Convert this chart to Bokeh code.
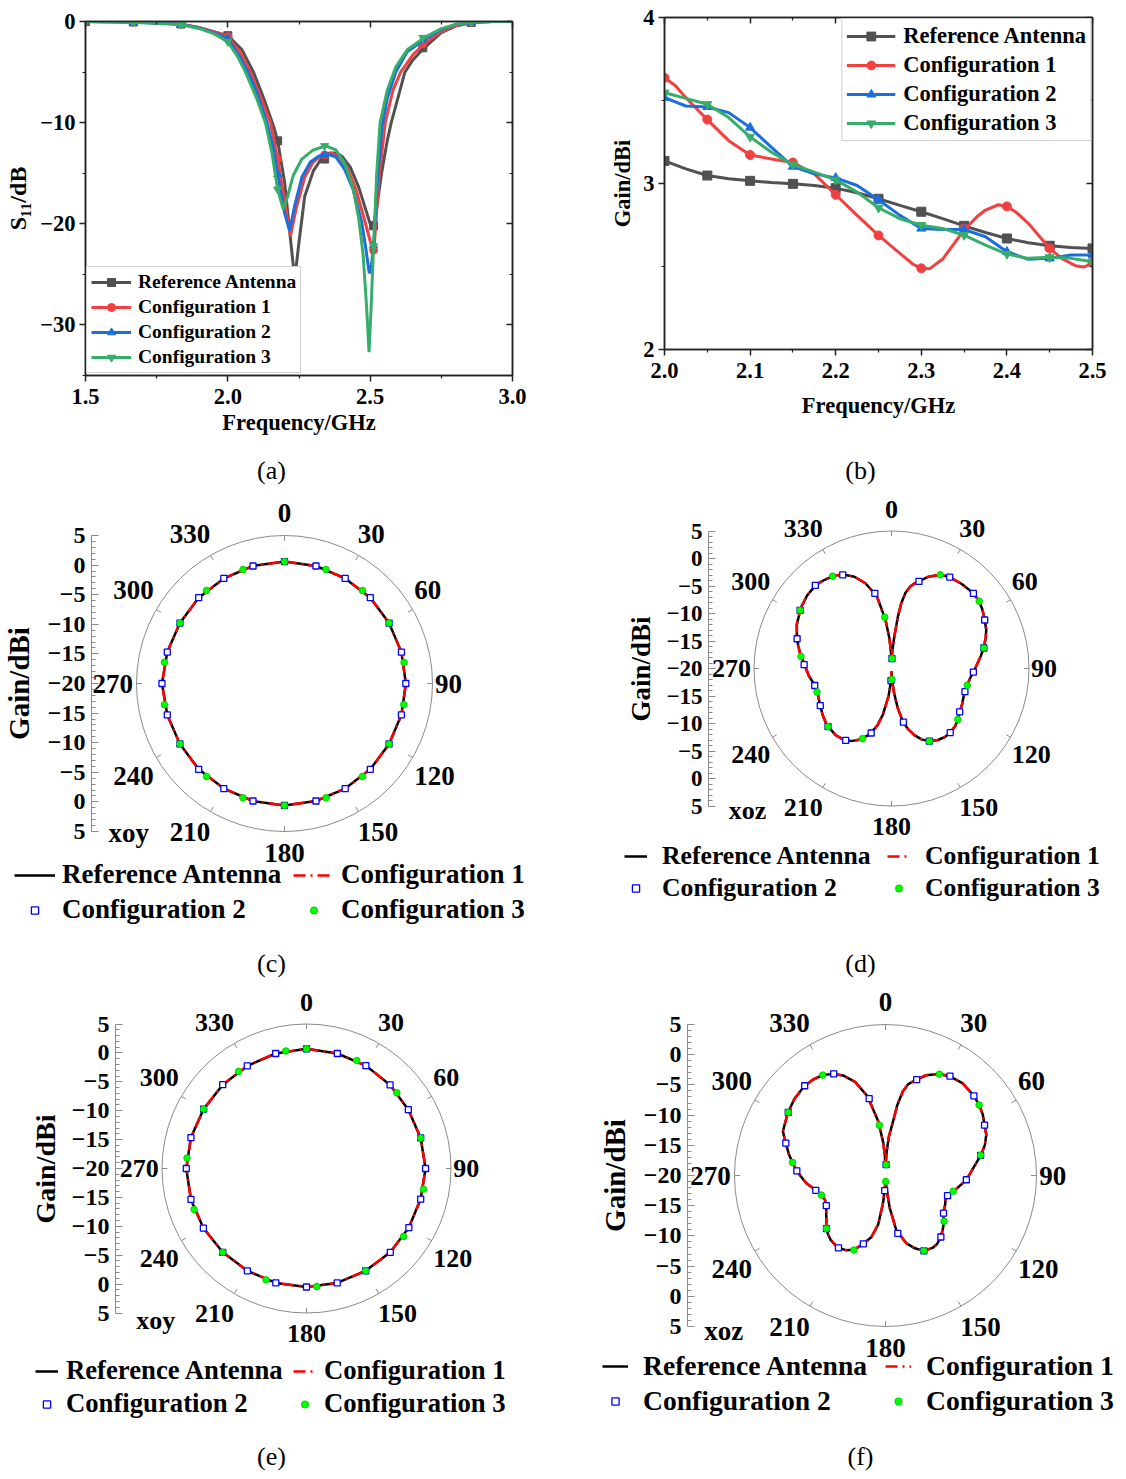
import numpy as np
from bokeh.plotting import figure
from bokeh.models import Range1d, LinearAxis, FixedTicker, Legend, LegendItem, Label, ColumnDataSource
from bokeh.layouts import row, column
from bokeh.core.properties import value, field
from bokeh.embed import file_html
from bokeh.resources import INLINE

FONT = "Liberation Serif"

# ---------------- shared series info ----------------
series_names = ["Reference Antenna", "Configuration 1", "Configuration 2", "Configuration 3"]
line_colors = ["#515151", "#F14040", "#1A6FDF", "#37AD6B"]
marker_types = ["square", "circle", "triangle", "inverted_triangle"]

# ---------------- (a) S11 vs frequency ----------------
s11_ref_f = [1.5, 1.6, 1.7, 1.8, 1.85, 1.9, 1.95, 2.0, 2.05, 2.09, 2.13, 2.16, 2.175, 2.2, 2.22, 2.235, 2.25, 2.27, 2.3,
             2.33, 2.36, 2.38, 2.4, 2.43, 2.46, 2.48, 2.5, 2.51, 2.52, 2.54, 2.56, 2.574, 2.6, 2.622, 2.65, 2.69, 2.75,
             2.8, 2.86, 2.93, 3.0]
s11_ref_db = [0.0, -0.02, -0.08, -0.2, -0.35, -0.6, -1.0, -1.4, -2.8, -5.0, -7.9, -10.3, -11.8, -16.0, -21.5, -25.5,
              -21.8, -17.3, -14.8, -13.5, -13.0, -13.0, -13.3, -14.4, -16.4, -18.2, -20.0, -20.3, -19.0, -15.0, -11.8,
              -10.0, -7.3, -5.0, -3.8, -2.6, -1.1, -0.45, -0.1, 0.0, 0.0]
s11_c1_f = [1.5, 1.6, 1.7, 1.8, 1.85, 1.9, 1.95, 2.0, 2.04, 2.08, 2.12, 2.15, 2.175, 2.2, 2.22, 2.24, 2.27, 2.3, 2.33,
            2.36, 2.39, 2.42, 2.45, 2.48, 2.5, 2.513, 2.53, 2.553, 2.58, 2.607, 2.65, 2.69, 2.75, 2.8, 2.86, 2.93, 3.0]
s11_c1_db = [0.0, -0.02, -0.08, -0.2, -0.35, -0.62, -1.0, -1.5, -2.9, -5.0, -7.8, -10.0, -13.6, -17.8, -21.2, -18.5,
             -15.4, -13.9, -13.2, -13.0, -13.3, -14.5, -16.6, -19.6, -21.7, -22.7, -15.8, -10.0, -6.8, -5.0, -3.3,
             -2.2, -1.0, -0.4, -0.08, 0.0, 0.0]
s11_c2_f = [1.5, 1.6, 1.7, 1.8, 1.85, 1.9, 1.95, 2.0, 2.04, 2.071, 2.1, 2.138, 2.16, 2.175, 2.2, 2.217, 2.235, 2.26,
            2.29, 2.32, 2.35, 2.38, 2.41, 2.44, 2.47, 2.485, 2.497, 2.505, 2.513, 2.525, 2.541, 2.56, 2.59, 2.63, 2.69,
            2.75, 2.8, 2.86, 2.93, 3.0]
s11_c2_db = [0.0, -0.03, -0.1, -0.22, -0.38, -0.65, -1.1, -1.7, -3.4, -5.0, -6.9, -10.0, -12.6, -15.1, -19.0, -20.7,
             -18.2, -15.4, -13.9, -13.3, -13.1, -13.4, -14.6, -16.6, -19.8, -22.5, -24.9, -24.0, -21.9, -16.0, -10.5,
             -7.6, -5.0, -3.0, -1.8, -0.8, -0.3, -0.05, 0.0, 0.0]
s11_c3_f = [1.5, 1.6, 1.7, 1.8, 1.85, 1.9, 1.95, 2.0, 2.035, 2.062, 2.1, 2.132, 2.155, 2.175, 2.195, 2.21, 2.23, 2.26,
            2.3, 2.344, 2.38, 2.41, 2.44, 2.46, 2.475, 2.487, 2.496, 2.503, 2.512, 2.523, 2.535, 2.56, 2.59, 2.63, 2.69,
            2.75, 2.8, 2.86, 2.93, 3.0]
s11_c3_db = [0.0, -0.04, -0.12, -0.25, -0.4, -0.7, -1.2, -2.0, -3.5, -5.0, -7.5, -10.0, -13.0, -16.6, -18.6, -17.3,
             -15.2, -13.6, -12.7, -12.3, -12.7, -14.0, -16.5, -19.5, -23.0, -28.0, -32.7, -28.5, -22.2, -15.0, -10.0,
             -6.8, -4.5, -2.8, -1.6, -0.7, -0.3, -0.05, 0.0, 0.0]
s11_mark_f = [1.5, 1.668, 1.835, 2.0, 2.175, 2.34, 2.512, 2.685, 2.855]
s11_ref_mark = [0.0, -0.05, -0.25, -1.4, -11.8, -13.6, -20.2, -2.6, -0.1]
s11_c1_mark = [0.0, -0.05, -0.25, -1.5, -13.6, -13.2, -22.6, -2.2, -0.08]
s11_c2_mark = [0.0, -0.07, -0.28, -1.7, -15.1, -13.2, -22.1, -1.8, -0.06]
s11_c3_mark = [0.0, -0.08, -0.3, -2.0, -16.6, -12.3, -22.2, -1.6, -0.05]
s11_x_ticks = [1.5, 2.0, 2.5, 3.0]
s11_x_labels = ["1.5", "2.0", "2.5", "3.0"]
s11_x_minor = [1.75, 2.25, 2.75]
s11_y_ticks = [0, -10, -20, -30]
s11_y_labels = ["0", "\u221210", "\u221220", "\u221230"]
s11_y_minor = [-5, -15, -25, -35]

# ---------------- (b) gain vs frequency ----------------
gain_f = [2.0, 2.025, 2.05, 2.075, 2.1, 2.125, 2.15, 2.175, 2.2, 2.225, 2.25, 2.275, 2.3, 2.325, 2.35, 2.375, 2.4,
          2.425, 2.45, 2.475, 2.5]
gain_ref = [3.136, 3.088, 3.048, 3.028, 3.016, 3.006, 2.998, 2.988, 2.972, 2.944, 2.908, 2.868, 2.830, 2.788, 2.745,
            2.705, 2.669, 2.643, 2.625, 2.615, 2.609]
gain_c1 = [3.637, 3.517, 3.385, 3.258, 3.172, 3.148, 3.126, 3.058, 2.932, 2.808, 2.687, 2.579, 2.489, 2.559, 2.729,
           2.858, 2.862, 2.768, 2.609, 2.509, 2.523]
gain_c2 = [3.517, 3.467, 3.461, 3.427, 3.337, 3.218, 3.102, 3.058, 3.034, 2.988, 2.902, 2.808, 2.729, 2.723, 2.723,
           2.679, 2.589, 2.543, 2.549, 2.569, 2.569]
gain_c3 = [3.547, 3.513, 3.477, 3.397, 3.281, 3.188, 3.114, 3.068, 3.022, 2.948, 2.854, 2.788, 2.749, 2.729, 2.689,
           2.629, 2.575, 2.549, 2.555, 2.549, 2.529]
# configuration 1 read more densely where its curve bends sharply
gain_c1_fine_f = [2.0, 2.0125, 2.025, 2.0375, 2.05, 2.075, 2.1, 2.125, 2.15, 2.175, 2.2, 2.225, 2.25, 2.275, 2.29,
                  2.3, 2.31, 2.325, 2.34, 2.35, 2.365, 2.375, 2.39, 2.4, 2.41, 2.425, 2.45, 2.465, 2.48, 2.49, 2.5]
gain_c1_fine = [3.637, 3.59, 3.517, 3.45, 3.385, 3.258, 3.172, 3.148, 3.126, 3.058, 2.932, 2.808, 2.687, 2.579, 2.515,
                2.489, 2.487, 2.545, 2.65, 2.72, 2.8, 2.84, 2.872, 2.862, 2.83, 2.76, 2.609, 2.545, 2.505, 2.497, 2.52]
gain_x_ticks = [2.0, 2.1, 2.2, 2.3, 2.4, 2.5]
gain_x_labels = ["2.0", "2.1", "2.2", "2.3", "2.4", "2.5"]
gain_x_minor = [2.05, 2.15, 2.25, 2.35, 2.45]
gain_y_ticks = [2, 3, 4]
gain_y_labels = ["2", "3", "4"]
gain_y_minor = [2.5, 3.5]

# ---------------- polar patterns (gain in dBi vs angle in degrees) ----------------
GAIN_MIN, GAIN_MAX = -20, 5
polar_tick_labels = ["5", "0", "\u22125", "\u221210", "\u221215", "\u221220", "\u221215", "\u221210", "\u22125", "0", "5"]
angle_ticks = [0, 30, 60, 90, 120, 150, 180, 210, 240, 270, 300, 330]
angle_labels = ["0", "30", "60", "90", "120", "150", "180", "210", "240", "270", "300", "330"]
polar_legend_names = ["Reference Antenna", "Configuration 1", "Configuration 2", "Configuration 3"]

# (c) xoy, set 1
xoy1_ang = [0, 15, 30, 45, 60, 75, 90, 105, 120, 135, 150, 165, 180, 195, 210, 225, 240, 255, 270, 285, 300, 315,
            330, 345, 360]
xoy1_ref = [0.6, 0.55, 0.5, 0.5, 0.4, 0.45, 0.5, 0.45, 0.4, 0.5, 0.5, 0.55, 0.6, 0.55, 0.5, 0.5, 0.4, 0.5, 0.7, 0.5,
            0.4, 0.5, 0.5, 0.55, 0.6]
xoy1_c2_ang = [0, 15, 30, 45, 60, 75, 90, 105, 120, 135, 150, 165, 180, 195, 210, 225, 240, 255, 270, 285, 300, 315,
               330, 345]
xoy1_c2 = [0.6, 0.55, 0.5, 0.5, 0.4, 0.45, 0.5, 0.45, 0.4, 0.5, 0.5, 0.55, 0.6, 0.55, 0.5, 0.5, 0.4, 0.5, 0.7, 0.5,
           0.4, 0.5, 0.5, 0.55]
xoy1_c3_ang = [0, 20, 40, 60, 80, 100, 120, 140, 160, 180, 200, 220, 240, 260, 280, 300, 320, 340]
xoy1_c3 = [0.6, 0.5, 0.5, 0.4, 0.5, 0.45, 0.4, 0.5, 0.55, 0.6, 0.55, 0.5, 0.4, 0.6, 0.6, 0.4, 0.5, 0.5]

# (d) xoz, set 1
xoz1_ang = [0, 2, 4, 5.5, 7, 8.5, 10.5, 12.9, 15, 17.4, 22, 27.3, 32.4, 40, 47.1, 52.1, 57, 61.6, 67.9, 72, 77.3, 82,
            87, 91.9, 96, 101.7, 106.9, 112, 117, 122.6, 127.1, 132, 137.3, 142, 147, 152.7, 157, 161, 165, 168.1, 171,
            174, 177, 180, 183, 186, 190.5, 194, 198.6, 203.8, 209, 214.4, 220, 229.2, 236, 244.3, 250, 254.5, 259, 265,
            273.9, 279, 284, 288.6, 295, 304, 311, 318.1, 323, 328.3, 333.3, 338, 343, 348.5, 352.9, 356, 358, 360]
xoz1_ref = [-18.6, -17.4, -15.6, -13.6, -10.5, -8.0, -6.0, -4.7, -4.0, -3.4, -2.0, -0.8, -0.3, 0.0, 0.2, 0.1, -0.3,
            -0.8, -1.4, -2.0, -2.8, -3.6, -4.4, -5.0, -5.5, -5.9, -6.0, -5.9, -5.6, -5.3, -4.8, -4.4, -4.2, -4.2, -4.5,
            -5.1, -6.0, -7.2, -8.7, -10.3, -12.7, -15.5, -17.8, -19.5, -17.5, -15.0, -11.5, -9.3, -7.3, -5.9, -4.9,
            -4.4, -4.2, -4.4, -4.9, -5.5, -5.8, -5.8, -5.6, -4.9, -4.0, -3.2, -2.5, -1.85, -1.0, -0.15, 0.3, 0.5, 0.2,
            -0.15, -0.9, -2.0, -3.8, -6.6, -11.0, -14.5, -16.8, -18.6]
xoz1_c2_ang = [2.5, 17.5, 32.5, 47.5, 62.5, 77.5, 92.5, 107.5, 122.5, 137.5, 152.5, 167.5, 182.5, 197.5, 212.5, 227.5,
               242.5, 257.5, 272.5, 287.5, 302.5, 317.5, 332.5, 347.5]
xoz1_c2 = [-18.2, -3.4, -0.3, 0.2, -0.9, -2.8, -5.1, -6.0, -5.3, -4.2, -5.1, -10.0, -17.8, -7.7, -4.5, -4.35, -5.4,
           -5.7, -4.1, -2.0, -0.3, 0.5, -0.8, -6.0]
xoz1_c3_ang = [2.5, 27.5, 52.5, 77.5, 102.5, 127.5, 152.5, 177.5, 202.5, 227.5, 252.5, 277.5, 302.5, 327.5, 352.5]
xoz1_c3 = [-18.2, -0.8, 0.1, -2.8, -5.9, -4.8, -5.1, -18.0, -6.2, -4.35, -5.8, -3.4, -0.3, -0.1, -10.6]

# (e) xoy, set 2
xoy2_ang = [0, 15, 30, 45, 60, 75, 90, 105, 120, 135, 150, 165, 180, 195, 210, 225, 240, 255, 270, 285, 300, 315,
            330, 345, 360]
xoy2_ref = [0.7, 0.6, 0.55, 0.45, 0.35, 0.45, 0.6, 0.45, 0.45, 0.5, 0.45, 0.5, 0.5, 0.5, 0.45, 0.5, 0.6, 0.7, 0.8,
            0.7, 0.55, 0.5, 0.5, 0.6, 0.7]
xoy2_c2_ang = [0, 15, 30, 45, 60, 75, 90, 105, 120, 135, 150, 165, 180, 195, 210, 225, 240, 255, 270, 285, 300, 315,
               330, 345]
xoy2_c2 = [0.7, 0.6, 0.55, 0.45, 0.35, 0.45, 0.6, 0.45, 0.45, 0.5, 0.45, 0.5, 0.5, 0.5, 0.45, 0.5, 0.6, 0.7, 0.8,
           0.7, 0.55, 0.5, 0.5, 0.6]
xoy2_c3_ang = [0, 25, 50, 75, 100, 125, 150, 175, 200, 225, 250, 275, 300, 325, 350]
xoy2_c3 = [0.7, 0.6, 0.4, 0.45, 0.55, 0.5, 0.45, 0.5, 0.5, 0.5, 0.7, 0.75, 0.55, 0.5, 0.65]

# (f) xoz, set 2
xoz2_ang = [0, 2.9, 5, 7.5, 9.5, 11.6, 14, 17.3, 22, 27.8, 33.1, 40, 48.2, 53.2, 58, 63.1, 68, 73, 78.2, 83, 88, 93.2,
            98, 103.2, 107.9, 112, 116.1, 120, 123.7, 128.2, 133, 138.2, 143, 147, 153, 158, 163, 168.8, 172.6, 175,
            177.5, 180, 182, 185, 188.5, 193, 198.6, 203.3, 208, 213.7, 220.5, 224.5, 228.4, 232.2, 237, 243.2, 248,
            253.4, 258, 264.6, 272.3, 277.7, 282, 287.6, 293.3, 302.6, 310, 317.7, 323, 328, 332.9, 337, 342, 347.2,
            352.3, 356, 358, 360]
xoz2_ref = [-18.4, -16.0, -13.5, -11.5, -8.2, -5.8, -4.4, -3.5, -2.1, -1.0, -0.4, -0.1, -0.3, -0.6, -1.0, -1.6, -2.0,
            -2.8, -3.9, -5.0, -5.9, -6.6, -7.6, -8.5, -9.2, -9.3, -9.0, -8.8, -8.5, -7.7, -7.0, -6.3, -5.8, -5.7, -6.0,
            -7.0, -8.3, -10.7, -14.6, -17.4, -18.8, -19.5, -18.5, -15.5, -11.8, -9.5, -7.9, -6.6, -6.0, -5.7, -6.0,
            -6.4, -6.9, -7.6, -8.3, -9.0, -9.2, -8.9, -8.2, -6.8, -5.4, -4.5, -3.7, -2.7, -1.5, -0.8, -0.3, 0.0, -0.1,
            -0.4, -1.1, -2.0, -3.7, -6.55, -10.9, -14.5, -16.5, -18.4]
xoz2_c2_ang = [3, 18, 33, 48, 63, 78, 93, 108, 123, 138, 153, 168, 183, 198, 213, 228, 243, 258, 273, 288, 303, 318,
               333, 348]
xoz2_c2 = [-18.2, -3.3, -0.4, -0.3, -1.6, -3.9, -6.6, -9.2, -8.55, -6.3, -6.0, -10.2, -17.5, -8.1, -5.7, -6.85, -9.0,
           -8.2, -5.3, -2.65, -0.8, 0.0, -1.1, -7.0]
xoz2_c3_ang = [3, 28, 53, 78, 103, 128, 153, 178, 203, 228, 253, 278, 303, 328, 353]
xoz2_c3 = [-18.2, -1.0, -0.6, -3.9, -8.5, -7.7, -6.0, -19.0, -6.6, -6.85, -8.9, -4.45, -0.8, -0.4, -11.6]


def no_frame_align(p):
    if "frame_align" in p.properties():
        p.frame_align = False


def style_axis(ax, tick_fs, label_fs, color="#222222"):
    ax.axis_line_color = color
    ax.axis_line_width = 1.5
    ax.major_tick_line_color = color
    ax.minor_tick_line_color = color
    ax.major_tick_line_width = 1.5
    ax.minor_tick_line_width = 1.2
    ax.major_label_text_font = FONT
    ax.major_label_text_font_style = "bold"
    ax.major_label_text_font_size = tick_fs
    ax.major_label_text_color = "black"
    ax.axis_label_text_font = FONT
    ax.axis_label_text_font_style = "bold"
    ax.axis_label_text_font_size = label_fs
    ax.axis_label_text_color = "black"


def cart_panel(W, H, borders, xr, yr, xt, xl, xm, yt, yl, ym, xlabel, ylabel, tick_fs, xlab_fs, ylab_fs,
               x_std, x_lstd, y_std, y_lstd):
    left, right, top, bottom = borders
    p = figure(width=W, height=H, x_range=Range1d(*xr), y_range=Range1d(*yr),
               x_axis_type=None, y_axis_type=None, toolbar_location=None, output_backend="svg",
               min_border_left=left, min_border_right=right, min_border_top=top, min_border_bottom=bottom)
    no_frame_align(p)
    p.outline_line_color = "#222222"
    p.outline_line_width = 1.5
    bottom_ax = LinearAxis(ticker=FixedTicker(ticks=xt, minor_ticks=xm), major_label_overrides=dict(zip(xt, xl)),
                           axis_label=xlabel)
    left_ax = LinearAxis(ticker=FixedTicker(ticks=yt, minor_ticks=ym), major_label_overrides=dict(zip(yt, yl)),
                         axis_label=ylabel)
    top_ax = LinearAxis(ticker=FixedTicker(ticks=xt, minor_ticks=xm), major_label_overrides={t: "" for t in xt})
    right_ax = LinearAxis(ticker=FixedTicker(ticks=yt, minor_ticks=ym), major_label_overrides={t: "" for t in yt})
    for ax in (bottom_ax, left_ax, top_ax, right_ax):
        style_axis(ax, tick_fs, xlab_fs)
    left_ax.axis_label_text_font_size = ylab_fs
    for ax in (bottom_ax, left_ax):
        ax.major_tick_out, ax.major_tick_in = 6, 0
        ax.minor_tick_out, ax.minor_tick_in = 3, 0
    for ax in (top_ax, right_ax):
        ax.major_tick_out, ax.major_tick_in = 0, 6
        ax.minor_tick_out, ax.minor_tick_in = 0, 3
        ax.major_label_standoff = 0
        ax.major_label_text_font_size = "1px"
    bottom_ax.major_label_standoff = x_std
    bottom_ax.axis_label_standoff = x_lstd
    left_ax.major_label_standoff = y_std
    left_ax.axis_label_standoff = y_lstd
    p.add_layout(bottom_ax, "below")
    p.add_layout(left_ax, "left")
    p.add_layout(top_ax, "above")
    p.add_layout(right_ax, "right")
    return p


def caption_fig(W, H, text, cx, cy):
    p = figure(width=W, height=H, x_range=Range1d(0, W), y_range=Range1d(0, H), x_axis_type=None, y_axis_type=None,
               toolbar_location=None, output_backend="svg", min_border_left=0, min_border_right=0,
               min_border_top=0, min_border_bottom=0)
    no_frame_align(p)
    p.outline_line_color = None
    p.text(x=[cx], y=[H - cy], text=[text], text_align="center", text_baseline="middle", text_font=value(FONT),
           text_font_size="26px", text_color="black")
    return p


# ================= (a) =================
pa = cart_panel(578, 448, (85, 66, 21, 73), (1.5, 3.0), (-35, 0), s11_x_ticks, s11_x_labels, s11_x_minor,
                s11_y_ticks, s11_y_labels, s11_y_minor, "Frequency/GHz", "S\u2081\u2081/dB", "22.5px", "22.5px",
                "24px", 7, 3, 4, 6)
a_lines = [(s11_ref_f, s11_ref_db), (s11_c1_f, s11_c1_db), (s11_c2_f, s11_c2_db), (s11_c3_f, s11_c3_db)]
a_marks = [s11_ref_mark, s11_c1_mark, s11_c2_mark, s11_c3_mark]
a_items = []
for i in range(4):
    lr = pa.line(a_lines[i][0], a_lines[i][1], line_color=line_colors[i], line_width=3)
    sr = pa.scatter(s11_mark_f, a_marks[i], marker=marker_types[i], size=8, fill_color=line_colors[i],
                    line_color=line_colors[i])
    a_items.append(LegendItem(label=series_names[i], renderers=[lr, sr]))
pa.add_layout(Legend(items=a_items, location=(1, 2), label_text_font=FONT, label_text_font_style="bold",
                     label_text_font_size="19.5px", label_text_color="black", glyph_width=40, glyph_height=20,
                     label_height=20, label_standoff=7, spacing=3, padding=4, margin=0, border_line_color="#a0a0a0",
                     border_line_width=1, background_fill_color="white", background_fill_alpha=1))

# ================= (b) =================
pb = cart_panel(540, 448, (86, 26, 17, 99), (2.0, 2.5), (2, 4), gain_x_ticks, gain_x_labels, gain_x_minor,
                gain_y_ticks, gain_y_labels, gain_y_minor, "Frequency/GHz", "Gain/dBi", "22.5px", "22.5px",
                "22.5px", 7, 12, 4, 5)
b_series = [gain_ref, gain_c1, gain_c2, gain_c3]
b_line_x = [gain_f, gain_c1_fine_f, gain_f, gain_f]
b_line_y = [gain_ref, gain_c1_fine, gain_c2, gain_c3]
b_items = []
for i in range(4):
    lr = pb.line(b_line_x[i], b_line_y[i], line_color=line_colors[i], line_width=3)
    sr = pb.scatter(gain_f[::2], b_series[i][::2], marker=marker_types[i], size=9, fill_color=line_colors[i],
                    line_color=line_colors[i])
    b_items.append(LegendItem(label=series_names[i], renderers=[lr, sr]))
pb.add_layout(Legend(items=b_items, location="top_right", label_text_font=FONT, label_text_font_style="bold",
                     label_text_font_size="22.5px", label_text_color="black", glyph_width=49, glyph_height=22,
                     label_height=22, label_standoff=8, spacing=3, padding=4, margin=1, border_line_color="#a0a0a0",
                     border_line_width=1, background_fill_color="white", background_fill_alpha=1))

cap_a = caption_fig(578, 42, "(a)", 271, 22)
cap_b = caption_fig(540, 42, "(b)", 282, 22)


# ================= polar panels =================
def polar_panel(W, H, cx, cy, k, axis_px, ang_ref, g_ref, ang_c2, g_c2, ang_c3, g_c3, plane, plane_xy,
                cap_text, cap_xy, leg_xy, leg_fs, leg_gw, leg_ls, leg_lw, leg_sp, tick_fs, ang_fs, lab_fs, lab_std):
    x0, x1 = -cx / k, (W - cx) / k
    y0, y1 = -(H - cy) / k, cy / k
    p = figure(width=W, height=H, x_range=Range1d(x0, x1), y_range=Range1d(y0, y1),
               x_axis_type=None, y_axis_type=None, toolbar_location=None, output_backend="svg",
               min_border_left=0, min_border_right=0, min_border_top=0, min_border_bottom=0)
    no_frame_align(p)
    p.outline_line_color = None
    r_out = GAIN_MAX - GAIN_MIN
    # outer ring and its angular ticks
    p.circle(x=[0], y=[0], radius=r_out, fill_color=None, line_color="#8a8a8a", line_width=1)
    th = np.deg2rad(angle_ticks)
    p.segment(x0=(r_out - 0.9) * np.sin(th), y0=(r_out - 0.9) * np.cos(th), x1=r_out * np.sin(th),
              y1=r_out * np.cos(th), line_color="#8a8a8a", line_width=1)
    # angle labels anchored just outside the ring
    r_lab = 26.1
    aligns = ["center" if a % 180 == 0 else ("left" if a < 180 else "right") for a in angle_ticks]
    bases = ["middle" if a in (90, 270) else ("bottom" if (a < 90 or a > 270) else "top") for a in angle_ticks]
    yoff = [0 if a in (90, 270) else (-7 if (a < 90 or a > 270) else 6) for a in angle_ticks]
    xoff = [-4 if 0 < a < 180 else (3 if a > 180 else 0) for a in angle_ticks]
    src = ColumnDataSource(dict(x=r_lab * np.sin(th), y=r_lab * np.cos(th), text=angle_labels, align=aligns,
                                base=bases, xo=xoff, yo=yoff))
    p.text(x="x", y="y", text="text", source=src, text_align=field("align"), text_baseline=field("base"),
           x_offset=field("xo"), y_offset=field("yo"),
           text_font=value(FONT), text_font_style="bold", text_font_size=ang_fs, text_color="black")
    p.text(x=[plane_xy[0]], y=[plane_xy[1]], text=[plane], text_align="center", text_baseline="middle",
           text_font=value(FONT), text_font_style="bold", text_font_size=ang_fs, text_color="black")

    def to_xy(ang, g):
        t = np.deg2rad(np.asarray(ang, dtype=float))
        r = np.clip(np.asarray(g, dtype=float) - GAIN_MIN, 0, None)
        return r * np.sin(t), r * np.cos(t)

    xr_, yr_ = to_xy(ang_ref, g_ref)
    l0 = p.line(xr_, yr_, line_color="black", line_width=2.5)
    l1 = p.line(xr_, yr_, line_color="#FF0000", line_width=2.5, line_dash="12 5 2 5")
    x2, y2 = to_xy(ang_c2, g_c2)
    s2 = p.scatter(x2, y2, marker="square", size=6, fill_color="white", line_color="#0000FF", line_width=1.3)
    x3, y3 = to_xy(ang_c3, g_c3)
    s3 = p.scatter(x3, y3, marker="circle", size=6.5, fill_color="#00FF00", line_color="#00D000", line_width=1)

    ticks = list(np.linspace(r_out, -r_out, len(polar_tick_labels)))
    minor = [v for v in range(-int(r_out), int(r_out) + 1) if v % 5 != 0]
    ax = LinearAxis(fixed_location=(axis_px - cx) / k, bounds=(-r_out, r_out),
                    ticker=FixedTicker(ticks=ticks, minor_ticks=minor),
                    major_label_overrides=dict(zip(ticks, polar_tick_labels)), axis_label="Gain/dBi")
    style_axis(ax, tick_fs, lab_fs, color="#8a8a8a")
    ax.axis_line_width = 1
    ax.major_tick_line_width = 1
    ax.minor_tick_line_width = 1
    ax.major_tick_in, ax.major_tick_out = 7, 0
    ax.minor_tick_in, ax.minor_tick_out = 4, 0
    ax.major_label_standoff = 6
    ax.axis_label_standoff = lab_std
    p.add_layout(ax, "left")

    items = [LegendItem(label=polar_legend_names[0], renderers=[l0]),
             LegendItem(label=polar_legend_names[1], renderers=[l1]),
             LegendItem(label=polar_legend_names[2], renderers=[s2]),
             LegendItem(label=polar_legend_names[3], renderers=[s3])]
    p.add_layout(Legend(items=items, location=leg_xy, orientation="horizontal", ncols=2,
                        label_text_font=FONT, label_text_font_style="bold", label_text_font_size=leg_fs,
                        label_text_color="black", glyph_width=leg_gw, glyph_height=18, label_standoff=leg_ls,
                        label_width=leg_lw, spacing=leg_sp, padding=0, margin=0, border_line_color=None,
                        background_fill_alpha=0))
    p.add_layout(Label(x=cap_xy[0], y=cap_xy[1], x_units="screen", y_units="screen", text=cap_text,
                       text_font=FONT, text_font_size="26px", text_align="center", text_baseline="middle",
                       text_color="black"))
    return p


pc = polar_panel(578, 495, 284, 193, 5.92, 91, xoy1_ang, xoy1_ref, xoy1_c2_ang, xoy1_c2, xoy1_c3_ang, xoy1_c3,
                 "xoy", (-26.3, -25.3), "(c)", (271, 22), (14, 60), "27px", 41, 7, 227, 4,
                 "24px", "27px", "29px", 10)
pd_ = polar_panel(540, 495, 313, 178, 5.5, 130, xoz1_ang, xoz1_ref, xoz1_c2_ang, xoz1_c2, xoz1_c3_ang, xoz1_c3,
                  "xoz", (-26.2, -25.8), "(d)", (282, 22), (46, 82), "25.7px", 23, 15, 223, 2,
                  "23px", "26px", "27px", 7)
pe = polar_panel(578, 486, 306, 183, 5.78, 115, xoy2_ang, xoy2_ref, xoy2_c2_ang, xoy2_c2, xoy2_c3_ang, xoy2_c3,
                 "xoy", (-26.1, -26.3), "(e)", (271, 15), (35, 52), "26.7px", 23, 8, 225, 2,
                 "24px", "26px", "28px", 8)
pf = polar_panel(540, 486, 307, 190, 6.04, 109, xoz2_ang, xoz2_ref, xoz2_c2_ang, xoz2_c2, xoz2_c3_ang, xoz2_c3,
                 "xoz", (-26.8, -25.7), "(f)", (282, 15), (24, 54), "27.6px", 26, 15, 239, 3,
                 "24px", "27px", "29px", 10)

layout = column(row(pa, pb), row(cap_a, cap_b), row(pc, pd_), row(pe, pf))
open("out.html", "w").write(file_html(layout, INLINE))
